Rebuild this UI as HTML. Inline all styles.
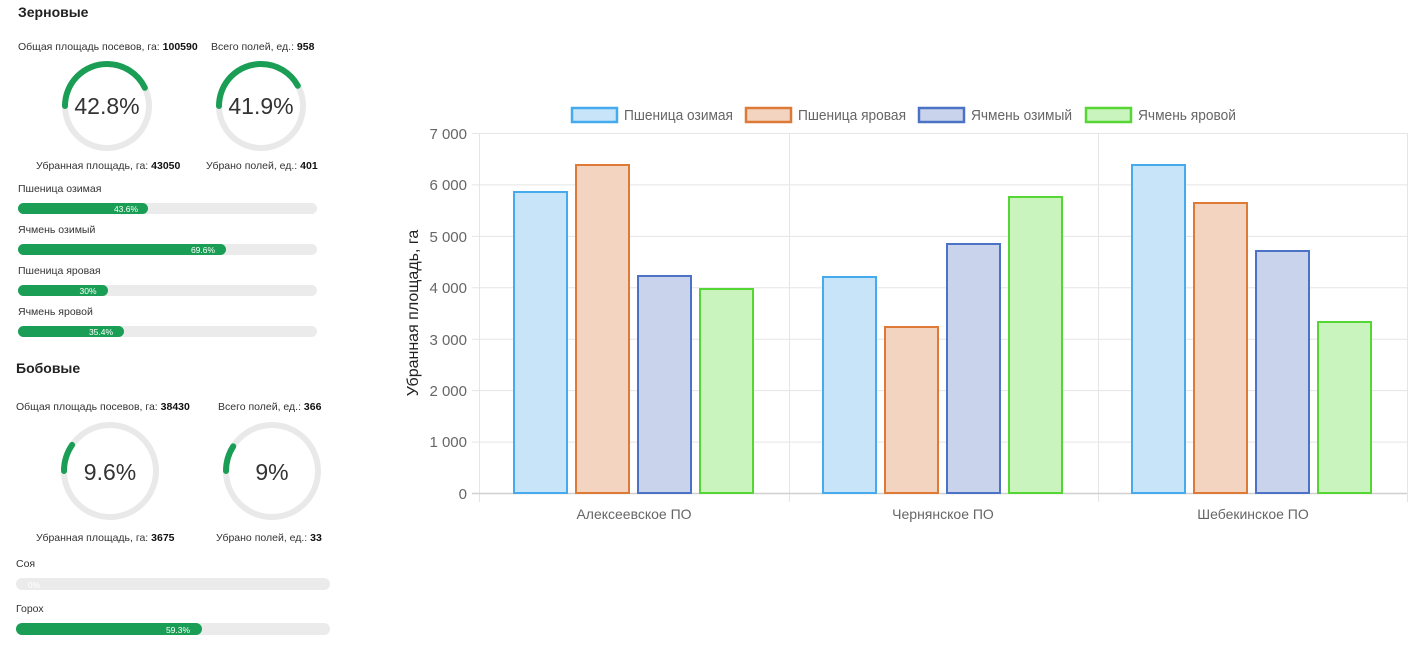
<!DOCTYPE html>
<html><head><meta charset="utf-8"><style>
body{margin:0;background:#fff;width:1420px;height:655px;overflow:hidden}
svg{display:block;font-family:"Liberation Sans",sans-serif}
</style></head><body>
<svg width="1420" height="655" viewBox="0 0 1420 655">
<text x="18" y="17" font-size="14" font-weight="bold" fill="#222">Зерновые</text>
<text x="18" y="50" font-size="10.5" fill="#333">Общая площадь посевов, га: <tspan font-weight="bold" fill="#111">100590</tspan></text>
<text x="211" y="50" font-size="10.5" fill="#333">Всего полей, ед.: <tspan font-weight="bold" fill="#111">958</tspan></text>
<circle cx="107" cy="106" r="42" fill="none" stroke="#e9e9e9" stroke-width="6"/>
<circle cx="107" cy="106" r="42" fill="none" stroke="#1a9e55" stroke-width="6" stroke-linecap="round" stroke-dasharray="112.9 263.9" transform="rotate(180 107 106)"/>
<text x="107" y="114" font-size="23" fill="#333" text-anchor="middle">42.8%</text>
<circle cx="261" cy="106" r="42" fill="none" stroke="#e9e9e9" stroke-width="6"/>
<circle cx="261" cy="106" r="42" fill="none" stroke="#1a9e55" stroke-width="6" stroke-linecap="round" stroke-dasharray="110.6 263.9" transform="rotate(180 261 106)"/>
<text x="261" y="114" font-size="23" fill="#333" text-anchor="middle">41.9%</text>
<text x="36" y="169" font-size="10.5" fill="#333">Убранная площадь, га: <tspan font-weight="bold" fill="#111">43050</tspan></text>
<text x="206" y="169" font-size="10.5" fill="#333">Убрано полей, ед.: <tspan font-weight="bold" fill="#111">401</tspan></text>

<g font-size="10.5" fill="#333">
<text x="18" y="192">Пшеница озимая</text>
<text x="18" y="233">Ячмень озимый</text>
<text x="18" y="274">Пшеница яровая</text>
<text x="18" y="315">Ячмень яровой</text>
</g>
<g>
<rect x="18" y="203" width="299" height="11" rx="5.5" fill="#ebebeb"/>
<rect x="18" y="203" width="130" height="11" rx="5.5" fill="#1a9e55"/>
<text x="126" y="212" font-size="8.5" fill="#fff" text-anchor="middle">43.6%</text>
<rect x="18" y="244" width="299" height="11" rx="5.5" fill="#ebebeb"/>
<rect x="18" y="244" width="208" height="11" rx="5.5" fill="#1a9e55"/>
<text x="203" y="253" font-size="8.5" fill="#fff" text-anchor="middle">69.6%</text>
<rect x="18" y="285" width="299" height="11" rx="5.5" fill="#ebebeb"/>
<rect x="18" y="285" width="90" height="11" rx="5.5" fill="#1a9e55"/>
<text x="88" y="294" font-size="8.5" fill="#fff" text-anchor="middle">30%</text>
<rect x="18" y="326" width="299" height="11" rx="5.5" fill="#ebebeb"/>
<rect x="18" y="326" width="106" height="11" rx="5.5" fill="#1a9e55"/>
<text x="101" y="335" font-size="8.5" fill="#fff" text-anchor="middle">35.4%</text>
</g>

<text x="16" y="373" font-size="14" font-weight="bold" fill="#222">Бобовые</text>
<text x="16" y="410" font-size="10.5" fill="#333">Общая площадь посевов, га: <tspan font-weight="bold" fill="#111">38430</tspan></text>
<text x="218" y="410" font-size="10.5" fill="#333">Всего полей, ед.: <tspan font-weight="bold" fill="#111">366</tspan></text>
<circle cx="110" cy="471" r="46" fill="none" stroke="#e9e9e9" stroke-width="6"/>
<circle cx="110" cy="471" r="46" fill="none" stroke="#1a9e55" stroke-width="6" stroke-linecap="round" stroke-dasharray="27.7 289" transform="rotate(180 110 471)"/>
<text x="110" y="480" font-size="23" fill="#333" text-anchor="middle">9.6%</text>
<circle cx="272" cy="471" r="46" fill="none" stroke="#e9e9e9" stroke-width="6"/>
<circle cx="272" cy="471" r="46" fill="none" stroke="#1a9e55" stroke-width="6" stroke-linecap="round" stroke-dasharray="26 289" transform="rotate(180 272 471)"/>
<text x="272" y="480" font-size="23" fill="#333" text-anchor="middle">9%</text>
<text x="36" y="541" font-size="10.5" fill="#333">Убранная площадь, га: <tspan font-weight="bold" fill="#111">3675</tspan></text>
<text x="216" y="541" font-size="10.5" fill="#333">Убрано полей, ед.: <tspan font-weight="bold" fill="#111">33</tspan></text>
<text x="16" y="567" font-size="10.5" fill="#333">Соя</text>
<rect x="16" y="578" width="314" height="12" rx="6" fill="#ebebeb"/>
<text x="34" y="588" font-size="8.5" fill="#fff" text-anchor="middle">0%</text>
<text x="16" y="612" font-size="10.5" fill="#333">Горох</text>
<rect x="16" y="623" width="314" height="12" rx="6" fill="#ebebeb"/>
<rect x="16" y="623" width="186" height="12" rx="6" fill="#1a9e55"/>
<text x="178" y="633" font-size="8.5" fill="#fff" text-anchor="middle">59.3%</text>

<g stroke="#e5e5e5" stroke-width="1">
<line x1="472" y1="133.5" x2="1407" y2="133.5"/>
<line x1="472" y1="184.9" x2="1407" y2="184.9"/>
<line x1="472" y1="236.4" x2="1407" y2="236.4"/>
<line x1="472" y1="287.8" x2="1407" y2="287.8"/>
<line x1="472" y1="339.2" x2="1407" y2="339.2"/>
<line x1="472" y1="390.6" x2="1407" y2="390.6"/>
<line x1="472" y1="442.1" x2="1407" y2="442.1"/>
<line x1="479.5" y1="133" x2="479.5" y2="502"/>
<line x1="789.5" y1="133" x2="789.5" y2="502"/>
<line x1="1098.5" y1="133" x2="1098.5" y2="502"/>
<line x1="1407.5" y1="133" x2="1407.5" y2="502"/>
</g>
<line x1="472" y1="493.5" x2="1407" y2="493.5" stroke="#d0d0d0" stroke-width="1.5"/>
<g font-size="15" fill="#666" text-anchor="end">
<text x="467" y="139">7 000</text>
<text x="467" y="190">6 000</text>
<text x="467" y="242">5 000</text>
<text x="467" y="293">4 000</text>
<text x="467" y="345">3 000</text>
<text x="467" y="396">2 000</text>
<text x="467" y="447">1 000</text>
<text x="467" y="499">0</text>
</g>
<g font-size="14" fill="#666" text-anchor="middle">
<text x="634" y="519">Алексеевское ПО</text>
<text x="943" y="519">Чернянское ПО</text>
<text x="1253" y="519">Шебекинское ПО</text>
</g>
<text transform="translate(418 313) rotate(-90)" font-size="16" fill="#222" text-anchor="middle">Убранная площадь, га</text>

<g stroke-width="2">
<g fill="#c7e4f9" stroke="#45aaee">
<rect x="514" y="192" width="53" height="301"/>
<rect x="823" y="277" width="53" height="216"/>
<rect x="1132" y="165" width="53" height="328"/>
</g>
<g fill="#f3d4c0" stroke="#de7a37">
<rect x="576" y="165" width="53" height="328"/>
<rect x="885" y="327" width="53" height="166"/>
<rect x="1194" y="203" width="53" height="290"/>
</g>
<g fill="#c9d4ec" stroke="#4c72c6">
<rect x="638" y="276" width="53" height="217"/>
<rect x="947" y="244" width="53" height="249"/>
<rect x="1256" y="251" width="53" height="242"/>
</g>
<g fill="#caf4bd" stroke="#55d634">
<rect x="700" y="289" width="53" height="204"/>
<rect x="1009" y="197" width="53" height="296"/>
<rect x="1318" y="322" width="53" height="171"/>
</g>
</g>

<g stroke-width="2.5">
<rect x="572" y="108" width="45" height="14" fill="#c7e4f9" stroke="#45aaee"/>
<rect x="746" y="108" width="45" height="14" fill="#f3d4c0" stroke="#de7a37"/>
<rect x="919" y="108" width="45" height="14" fill="#c9d4ec" stroke="#4c72c6"/>
<rect x="1086" y="108" width="45" height="14" fill="#caf4bd" stroke="#55d634"/>
</g>
<g font-size="14.5" fill="#666">
<text x="624" y="120" textLength="109" lengthAdjust="spacingAndGlyphs">Пшеница озимая</text>
<text x="798" y="120" textLength="108" lengthAdjust="spacingAndGlyphs">Пшеница яровая</text>
<text x="971" y="120" textLength="101" lengthAdjust="spacingAndGlyphs">Ячмень озимый</text>
<text x="1138" y="120" textLength="98" lengthAdjust="spacingAndGlyphs">Ячмень яровой</text>
</g>
</svg>
</body></html>
